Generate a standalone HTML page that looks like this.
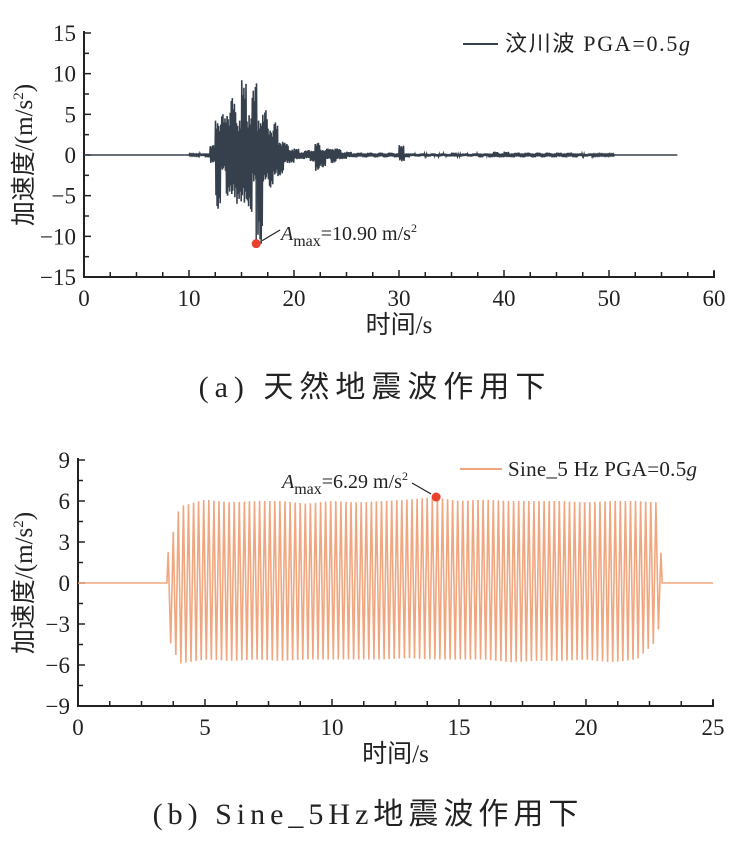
<!DOCTYPE html>
<html><head><meta charset="utf-8">
<style>
body{margin:0;background:#fff;width:730px;height:854px;overflow:hidden}
svg{display:block}
text{font-family:"Liberation Serif","Noto Serif CJK SC",serif;fill:#222}
.cjk{font-family:"Liberation Serif","Noto Sans CJK SC",sans-serif}
</style></head>
<body>
<svg id="svg" width="730" height="854" viewBox="0 0 730 854">
<g id="top"></g>
<g id="bot"></g>
<text x="375" y="397" text-anchor="middle" font-size="30" class="cjk" letter-spacing="6">(a) 天然地震波作用下</text>
<text x="368" y="824" text-anchor="middle" font-size="30" class="cjk" letter-spacing="5">(b) Sine_5Hz地震波作用下</text>
</svg>
<script>
// ---- top chart data (Wenchuan) : envelope every 0.5 s from 10 s to 50 s
const wcStart = 10, wcStep = 0.5;
const wcPos = [0.1,0.1,0.2,0.3,1.2,6.5,5,8,7,6.5,9.2,7.5,8.8,6.5,5.5,5,4,2.5,1.5,1,0.8,0.5,0.6,0.8,1.5,1,0.8,1.2,0.8,0.5,0.4,0.3,0.3,0.3,0.3,0.3,0.3,0.3,0.3,0.3,1.2,0.3,0.2,0.2,0.2,0.2,0.2,0.2,0.2,0.2,0.3,0.2,0.2,0.2,0.2,0.3,0.2,0.3,0.4,0.3,0.4,0.3,0.3,0.3,0.3,0.3,0.3,0.3,0.3,0.3,0.3,0.3,0.3,0.3,0.2,0.2,0.2,0.1,0.1,0.1,0.1];
const wcNeg = [-0.1,-0.1,-0.2,-0.3,-1.5,-6.6,-3,-5,-8,-6,-9,-7,-5,-10.9,-5,-4,-4,-2.5,-1.5,-1,-0.8,-0.5,-0.6,-0.8,-3,-1.5,-0.8,-1,-0.8,-0.5,-0.4,-0.3,-0.3,-0.3,-0.3,-0.3,-0.3,-0.3,-0.3,-0.3,-1.2,-0.3,-0.2,-0.2,-0.2,-0.2,-0.2,-0.2,-0.2,-0.2,-0.3,-0.2,-0.2,-0.2,-0.2,-0.3,-0.2,-0.3,-0.4,-0.3,-0.4,-0.3,-0.3,-0.3,-0.3,-0.3,-0.3,-0.3,-0.3,-0.3,-0.3,-0.3,-0.3,-0.3,-0.2,-0.2,-0.2,-0.1,-0.1,-0.1,-0.1];
const wcEnd = 56.5;
const wcXTicks = [0,10,20,30,40,50,60];
const wcYTicks = [15,10,5,0,-5,-10,-15];
const wcPeak = [16.4,-10.9];
// ---- bottom chart data (Sine 5 Hz): envelope per second
const snFreq = 5, snOn = 3.5, snOff = 23;
const snEnvT = [3.5,4,5,6,7,8,9,10,11,12,13,14,15,16,17,18,19,20,21,22,22.8,23];
const snEnvPos = [1.9,5.6,6.1,5.9,6.0,6.0,5.8,6.0,5.9,6.0,6.1,6.29,6.0,6.1,6.0,6.0,6.0,5.9,6.0,6.0,5.9,1.0];
const snEnvNeg = [-3.8,-5.9,-5.6,-5.7,-5.6,-5.7,-5.6,-5.6,-5.6,-5.6,-5.5,-5.6,-5.6,-5.6,-5.8,-5.7,-5.7,-5.6,-5.8,-5.6,-4.2,-1.0];
const snXTicks = [0,5,10,15,20,25];
const snYTicks = [9,6,3,0,-3,-6,-9];
const snPeak = [14.1,6.29];

const NS="http://www.w3.org/2000/svg";
function mk(parent,tag,attrs,txt){const e=document.createElementNS(NS,tag);for(const k in attrs)e.setAttribute(k,attrs[k]);if(txt!=null)e.textContent=txt;parent.appendChild(e);return e;}

function axes(g,o){
  const {x0,x1,y0,y1,xmin,xmax,ymin,ymax,xT,yT,xMinor,yMinor}=o;
  const X=v=>x0+(v-xmin)/(xmax-xmin)*(x1-x0);
  const Y=v=>y1-(v-ymin)/(ymax-ymin)*(y1-y0);
  const ax=mk(g,'path',{d:`M${x0},${y0-2}V${y1}H${x1}V${y1-6}`,fill:'none',stroke:'#222','stroke-width':2});
  
  
  for(let v=xmin;v<=xmax+1e-9;v+=xMinor){const major=xT.some(t=>Math.abs(t-v)<1e-6);const t=mk(g,'line',{x1:X(v),x2:X(v),y1:y1,y2:y1-(major?7:5),stroke:'#222','stroke-width':1.5});}
  for(let v=ymin;v<=ymax+1e-9;v+=yMinor){const major=yT.some(t=>Math.abs(t-v)<1e-6);const t=mk(g,'line',{x1:x0,x2:x0+(major?7:5),y1:Y(v),y2:Y(v),stroke:'#222','stroke-width':1.5});}
  xT.forEach(v=>{const t=mk(g,'text',{x:X(v),y:y1+29,'text-anchor':'middle','font-size':23},String(v));});
  yT.forEach(v=>{const t=mk(g,'text',{x:x0-8,y:Y(v)+8,'text-anchor':'end','font-size':23},v<0?'\u2212'+(-v):String(v));});
  const xl=mk(g,'text',{x:(x0+x1)/2,y:y1+56,'text-anchor':'middle','font-size':25,class:'cjk'},'时间/s');
  
  const yl=mk(g,'text',{x:0,y:0,'text-anchor':'middle','font-size':25,class:'cjk',transform:`translate(32,${(y0+y1)/2}) rotate(-90)`});
  
  yl.innerHTML='加速度/(m/s<tspan dy="-9" font-size="15">2</tspan><tspan dy="9">)</tspan>';
  return {X,Y};
}

// ---- top
const gt=document.getElementById('top');
const A=axes(gt,{x0:84,x1:714,y0:33,y1:277,xmin:0,xmax:60,ymin:-15,ymax:15,xT:wcXTicks,yT:wcYTicks,xMinor:2.5,yMinor:2.5});
const pattern=[1,0.55,0.8,0.45,0.9,0.65,0.75,0.5,0.95,0.6];
let pts=[[A.X(0),A.Y(0)],[A.X(wcStart),A.Y(0)]];
const nSub=10;
wcPos.forEach((p,i)=>{
  const t0=wcStart+i*wcStep;
  for(let k=0;k<nSub;k++){
    const t=t0+(k+0.5)*wcStep/nSub;
    const v=(k%2==0?p:wcNeg[i])*pattern[(k+i)%nSub];
    pts.push([A.X(t),A.Y(v)]);
  }
});
pts.push([A.X(wcStart+wcPos.length*wcStep),A.Y(0)],[A.X(wcEnd),A.Y(0)]);
const wl=mk(gt,'polyline',{points:pts.map(p=>p.map(n=>n.toFixed(1)).join(',')).join(' '),fill:'none',stroke:'#36404c','stroke-width':1.6});

const pk=mk(gt,'line',{x1:A.X(wcPeak[0]),x2:A.X(wcPeak[0]),y1:A.Y(0),y2:A.Y(wcPeak[1]),stroke:'#36404c','stroke-width':1.5});

const d1=mk(gt,'circle',{cx:A.X(wcPeak[0]),cy:A.Y(wcPeak[1]),r:4.5,fill:'#e8412f'});

const ar1=mk(gt,'path',{d:`M${A.X(wcPeak[0])+6},${A.Y(wcPeak[1])-3}L280,230`,stroke:'#222','stroke-width':1.2,fill:'none'});

const an1=mk(gt,'text',{x:281,y:240,'font-size':20});

an1.innerHTML='<tspan font-style="italic">A</tspan><tspan dy="6" font-size="16">max</tspan><tspan dy="-6">=10.90 m/s</tspan><tspan dy="-8" font-size="12">2</tspan>';
const lg1=mk(gt,'line',{x1:463,x2:498,y1:44,y2:44,stroke:'#36404c','stroke-width':2});

const lt1=mk(gt,'text',{x:505,y:51,'font-size':22,class:'cjk',textLength:185,lengthAdjust:'spacing'});

lt1.innerHTML='汶川波  PGA=0.5<tspan font-style="italic">g</tspan>';

// ---- bottom
const gb=document.getElementById('bot');
const B=axes(gb,{x0:78,x1:713,y0:460,y1:706,xmin:0,xmax:25,ymin:-9,ymax:9,xT:snXTicks,yT:snYTicks,xMinor:1.25,yMinor:1.5});
function env(arr,t){if(t<=snEnvT[0])return arr[0];for(let i=1;i<snEnvT.length;i++){if(t<=snEnvT[i]){const f=(t-snEnvT[i-1])/(snEnvT[i]-snEnvT[i-1]);return arr[i-1]+f*(arr[i]-arr[i-1]);}}return arr[arr.length-1];}
let sp=[[B.X(0),B.Y(0)],[B.X(snOn),B.Y(0)]];
const half=0.5/snFreq;
for(let t=snOn+half/2;t<snOff;t+=half){
  const k=Math.round((t-snOn-half/2)/half);
  const v=k%2==0?env(snEnvPos,t):env(snEnvNeg,t);
  sp.push([B.X(t),B.Y(v)]);
}
sp.push([B.X(snOff),B.Y(0)],[B.X(25),B.Y(0)]);
const sl=mk(gb,'polyline',{points:sp.map(p=>p.map(n=>n.toFixed(1)).join(',')).join(' '),fill:'none',stroke:'#f0a77f','stroke-width':1.6});

const d2=mk(gb,'circle',{cx:B.X(snPeak[0]),cy:B.Y(snPeak[1]),r:4.5,fill:'#e8412f'});

const ar2=mk(gb,'path',{d:`M${B.X(snPeak[0])-5},${B.Y(snPeak[1])-3}L412,483`,stroke:'#222','stroke-width':1.2,fill:'none'});

const an2=mk(gb,'text',{x:282,y:488,'font-size':20});

an2.innerHTML='<tspan font-style="italic">A</tspan><tspan dy="6" font-size="16">max</tspan><tspan dy="-6">=6.29 m/s</tspan><tspan dy="-8" font-size="12">2</tspan>';
const lg2=mk(gb,'line',{x1:460,x2:502,y1:469,y2:469,stroke:'#f0a77f','stroke-width':2});

const lt2=mk(gb,'text',{x:508,y:476,'font-size':21,textLength:189,lengthAdjust:'spacing'});

lt2.innerHTML='Sine_5 Hz  PGA=0.5<tspan font-style="italic">g</tspan>';
</script>
</body></html>
